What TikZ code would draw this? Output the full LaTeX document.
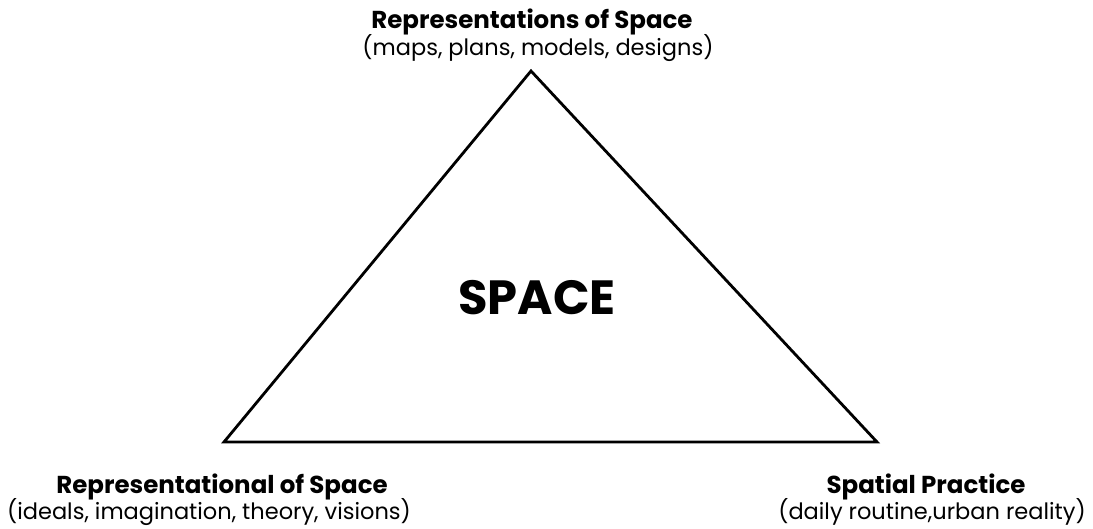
\documentclass[tikz,border=0pt]{standalone}
\usepackage{fontspec}
\setmainfont{Poppins}
\usetikzlibrary{positioning}

\tikzset{
  corner/.style={inner sep=0pt},
  headlabel/.style={font=\fontsize{24.5}{28}\selectfont\bfseries, inner sep=0pt},
  sublabel/.style={font=\fontsize{22.5}{26}\selectfont, inner sep=0pt},
}

\begin{document}
\begin{tikzpicture}[x=1pt, y=1pt]
        \useasboundingbox (0,0) rectangle (1093,529);

        % Corners of the triangle
        \coordinate (top) at (531, 458);
        \coordinate (left) at (224, 87);
        \coordinate (right) at (877, 87);

        \draw[line width=2.8pt, line join=miter] (top) -- (left) -- (right) -- cycle;

        % Centre
        \node[font=\fontsize{48}{52}\selectfont\bfseries, inner sep=0pt] (space) at (537, 231) {SPACE};

        % Top
        \node[headlabel] (conceived) at (532, 507) {Representations of Space};
        \node[sublabel] (conceivedsub) at (538, 481) {(maps, plans, models, designs)};

        % Bottom left
        \node[headlabel] (lived) at (222, 42) {Representational of Space};
        \node[sublabel] (livedsub) at (209, 17) {(ideals, imagination, theory, visions)};

        % Bottom right
        \node[headlabel] (perceived) at (926, 42) {Spatial Practice};
        \node[sublabel] (perceivedsub) at (932, 17) {(daily routine,urban reality)};

    \end{tikzpicture}
\end{document}
